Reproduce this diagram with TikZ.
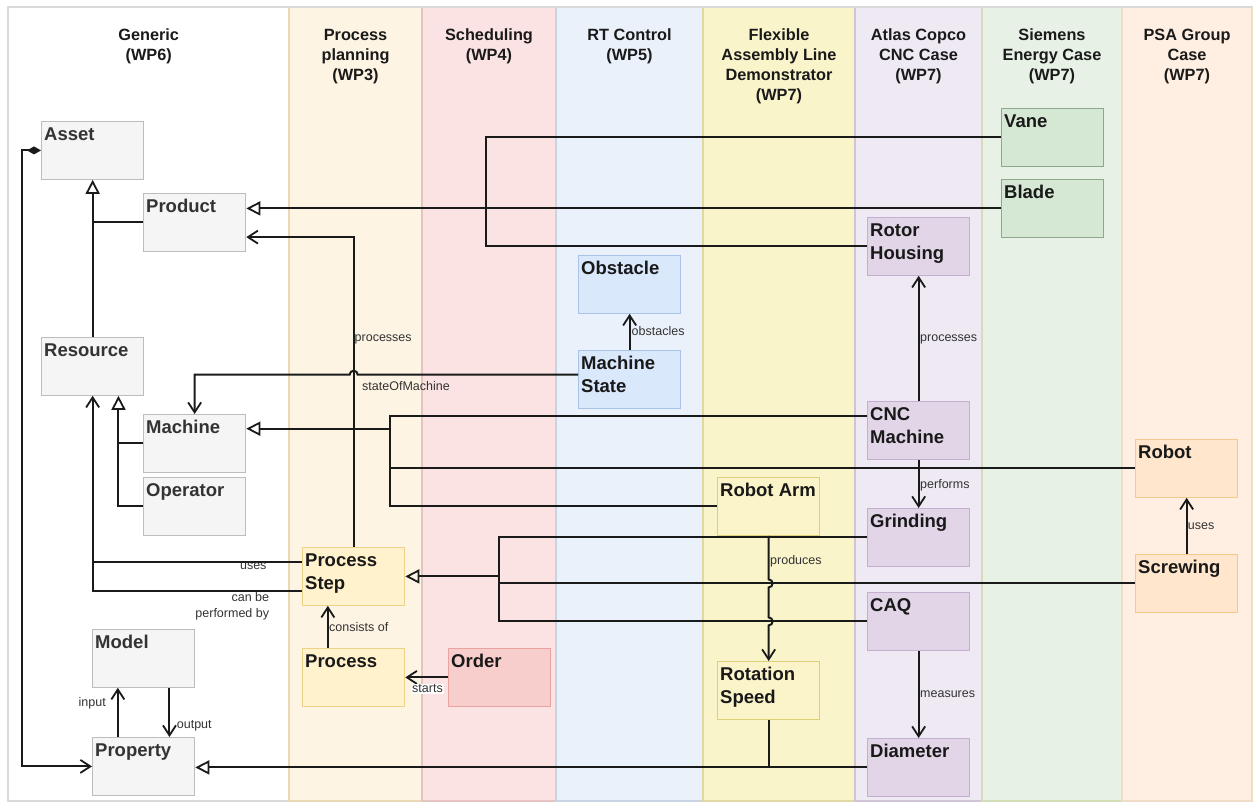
\documentclass[tikz,border=0pt]{standalone}
\usepackage{fontspec}
\setmainfont{Liberation Sans}
\usetikzlibrary{arrows.meta,calc}

% lane fills and borders
\definecolor{laneGenB}{HTML}{DADADA}
\definecolor{laneWPthree}{HTML}{FDF4E3}\definecolor{laneWPthreeB}{HTML}{EAD7B4}
\definecolor{laneWPfour}{HTML}{FBE3E3}\definecolor{laneWPfourB}{HTML}{E6C3C3}
\definecolor{laneWPfive}{HTML}{EAF1FB}\definecolor{laneWPfiveB}{HTML}{C8D3E4}
\definecolor{laneFlex}{HTML}{FAF4CB}\definecolor{laneFlexB}{HTML}{E2D8A2}
\definecolor{laneAtlas}{HTML}{EFE9F3}\definecolor{laneAtlasB}{HTML}{CFC4D8}
\definecolor{laneSiem}{HTML}{E8F1E6}\definecolor{laneSiemB}{HTML}{D3DDB8}
\definecolor{lanePSA}{HTML}{FFEFE2}\definecolor{lanePSAB}{HTML}{F1DCC6}
% box fills and borders
\definecolor{gFill}{HTML}{F5F5F5}\definecolor{gDraw}{HTML}{BDBDBD}\definecolor{gTxt}{HTML}{333333}
\definecolor{ppFill}{HTML}{FFF2CC}\definecolor{ppDraw}{HTML}{EDD28A}
\definecolor{orFill}{HTML}{F8CECC}\definecolor{orDraw}{HTML}{E8A3A0}
\definecolor{rtFill}{HTML}{DAE8FC}\definecolor{rtDraw}{HTML}{A8C3E8}
\definecolor{flFill}{HTML}{FBF4C9}\definecolor{flDraw}{HTML}{DFCE78}
\definecolor{acFill}{HTML}{E1D5E7}\definecolor{acDraw}{HTML}{C3AFD0}
\definecolor{seFill}{HTML}{D5E8D4}\definecolor{seDraw}{HTML}{8FA88C}
\definecolor{psFill}{HTML}{FFE6CC}\definecolor{psDraw}{HTML}{F3C98C}
\definecolor{lineC}{HTML}{1A1A1A}
\definecolor{lblTxt}{HTML}{333333}
\definecolor{headTxt}{HTML}{1A1A1A}

\begin{document}
\begin{tikzpicture}[x=1pt,y=-1pt,
  lane/.style={line width=1.2pt},
  % multi-line nodes sit on the baseline of their last line
  head/.style={font=\fontsize{16.3}{20}\selectfont\bfseries, align=center,
    text=headTxt, anchor=base, inner sep=0pt},
  box/.style={rectangle, anchor=north west, minimum width=102pt,
    minimum height=57.5pt, inner sep=0pt, line width=1.3pt},
  boxtxt/.style={anchor=base west, xshift=3pt, yshift=-19.7pt, inner sep=0pt,
    align=left, font=\fontsize{18.5}{23}\selectfont\bfseries, text=black!90},
  bx/.style={box, label={[boxtxt]north west:#1}},
  bxx/.style={box, label={[boxtxt, yshift=-23pt]north west:#1}},
  gx/.style={box, fill=gFill, draw=gDraw, label={[boxtxt, text=gTxt]north west:#1}},
  conn/.style={line width=2pt, draw=lineC},
  gen/.style={conn, -{Triangle[open, length=14pt, width=14pt, line width=1.8pt]}},
  ref/.style={conn, -{Straight Barb[length=10pt, width=13pt, line width=1.8pt]}},
  elbl/.style={font=\fontsize{12.5}{16}\selectfont, text=lblTxt, inner sep=0pt},
]
\useasboundingbox (0,0) rectangle (1255,803);

% ---------- swimlanes ----------
\draw[lane, fill=white, draw=laneGenB] (8,7) rectangle (289,801);
\draw[lane, fill=laneWPthree, draw=laneWPthreeB] (289,7) rectangle (422,801);
\draw[lane, fill=laneWPfour, draw=laneWPfourB] (422,7) rectangle (556,801);
\draw[lane, fill=laneWPfive, draw=laneWPfiveB] (556,7) rectangle (703,801);
\draw[lane, fill=laneFlex, draw=laneFlexB] (703,7) rectangle (855,801);
\draw[lane, fill=laneAtlas, draw=laneAtlasB] (855,7) rectangle (982,801);
\draw[lane, fill=laneSiem, draw=laneSiemB] (982,7) rectangle (1122,801);
\draw[lane, fill=lanePSA, draw=lanePSAB] (1122,7) rectangle (1252,801);
\draw[lane, draw=laneGenB] (8,7) -- (1252,7);

\node[head] (hGen) at (148.7,60) {Generic\\(WP6)};
\node[head] (hPP) at (355.5,80) {Process\\planning\\(WP3)};
\node[head] (hSch) at (489,60) {Scheduling\\(WP4)};
\node[head] (hRT) at (629.5,60) {RT Control\\(WP5)};
\node[head] (hFlex) at (779,100) {Flexible\\Assembly Line\\Demonstrator\\(WP7)};
\node[head] (hAtl) at (918.5,80) {Atlas Copco\\CNC Case\\(WP7)};
\node[head] (hSie) at (1052,80) {Siemens\\Energy Case\\(WP7)};
\node[head] (hPSA) at (1187,80) {PSA Group\\Case\\(WP7)};

% ---------- classes ----------
\node[gx={Asset}] (asset) at (41,121) {};
\node[gx={Product}] (product) at (143,193) {};
\node[gx={Resource}] (resource) at (41,337) {};
\node[gx={Machine}] (machine) at (143,414) {};
\node[gx={Operator}] (operator) at (143,477) {};
\node[gx={Model}] (model) at (92,629) {};
\node[gx={Property}] (property) at (92,737) {};

\node[bxx={Process\\Step}, fill=ppFill, draw=ppDraw] (pstep) at (302,547) {};
\node[bx={Process}, fill=ppFill, draw=ppDraw] (process) at (302,648) {};
\node[bx={Order}, fill=orFill, draw=orDraw] (order) at (448,648) {};
\node[bx={Obstacle}, fill=rtFill, draw=rtDraw] (obstacle) at (578,255) {};
\node[bxx={Machine\\State}, fill=rtFill, draw=rtDraw] (mstate) at (578,350) {};
\node[bx={Robot Arm}, fill=flFill, draw=flDraw] (robotarm) at (717,477) {};
\node[bxx={Rotation\\Speed}, fill=flFill, draw=flDraw] (rotspeed) at (717,661) {};
\node[bxx={Rotor\\Housing}, fill=acFill, draw=acDraw] (rotor) at (867,217) {};
\node[bxx={CNC\\Machine}, fill=acFill, draw=acDraw] (cnc) at (867,401) {};
\node[bx={Grinding}, fill=acFill, draw=acDraw] (grinding) at (867,508) {};
\node[bx={CAQ}, fill=acFill, draw=acDraw] (caq) at (867,592) {};
\node[bx={Diameter}, fill=acFill, draw=acDraw] (diameter) at (867,738) {};
\node[bx={Vane}, fill=seFill, draw=seDraw] (vane) at (1001,108) {};
\node[bx={Blade}, fill=seFill, draw=seDraw] (blade) at (1001,179) {};
\node[bx={Robot}, fill=psFill, draw=psDraw] (robot) at (1135,439) {};
\node[bx={Screwing}, fill=psFill, draw=psDraw] (screwing) at (1135,554) {};

% ---------- routing points ----------
\coordinate (cj) at (21.7,0);      % composition spine
\coordinate (genjoin) at (486,0);  % Vane / Rotor Housing spine
\coordinate (mj) at (390,0);       % Machine spine
\coordinate (pj) at (498.7,0);     % Process Step spine
\coordinate (resgen) at ($(resource.south west)!0.75!(resource.south east)$);
\coordinate (psA) at ($(pstep.north west)!0.25!(pstep.south west)$);
\coordinate (psB) at ($(pstep.north west)!0.75!(pstep.south west)$);
\coordinate (prodin) at ($(product.north east)!0.75!(product.south east)$);
\coordinate (msout) at ($(mstate.north west)!0.42!(mstate.south west)$);
\coordinate (cncout) at ($(cnc.north west)!0.25!(cnc.south west)$);
\coordinate (machin) at ($(machine.north east)!0.25!(machine.south east)$);

% ---------- generic hierarchy ----------
\draw[conn] (product.west) -- (product.west -| asset.south);
\draw[gen] (resource.north) -- (asset.south);
\draw[gen] (machine.west) -| (resgen);
\draw[conn] (operator.west) -| (machine.west -| resgen);
\draw[conn, {Diamond[length=14pt, width=8pt]}-{Straight Barb[length=10pt, width=13pt, line width=1.8pt]}]
  (asset.west) -- (asset.west -| cj) -- (cj |- property.west) -- (property.west);
\draw[ref] ($(property.north west)!0.25!(property.north east)$) -- ($(model.south west)!0.25!(model.south east)$);
\draw[ref] ($(model.south west)!0.75!(model.south east)$) -- ($(property.north west)!0.75!(property.north east)$);
\node[elbl, anchor=base east] (lInput) at (106,706.7) {input};
\node[elbl, anchor=base west] (lOutput) at (176.7,728.3) {output};

% ---------- process planning ----------
\draw[ref] (psA) -| (resource.south);
\draw[conn] (psB) -| (psA -| resource.south);
\node[elbl, anchor=base east] (lUses) at (266.7,569.3) {uses};
\node[elbl, anchor=base east, align=right] (lPerf) at (269.3,617.3) {can be\\performed by};
\draw[ref] (pstep.north) |- (prodin);
\node[elbl, anchor=base west] (lProc) at (354.5,341.7) {processes};
\draw[ref] ($(process.north west)!0.25!(process.north east)$) -- ($(pstep.south west)!0.25!(pstep.south east)$);
\node[elbl, anchor=base west] (lCons) at (329,631) {consists of};
\draw[ref] (order.west) -- (process.east);
\node[elbl, anchor=base west, fill=white, inner sep=1pt] (lStarts) at (411,692.7) {starts};

% ---------- RT control ----------
\draw[ref] (msout) -- ($(pstep.north |- msout)+(4,0)$) arc[start angle=0, end angle=180, radius=4pt]
  -- (machine.north |- msout) -- (machine.north);
\node[elbl, anchor=base west] (lState) at (362,390) {stateOfMachine};
\draw[ref] (mstate.north) -- (obstacle.south);
\node[elbl, anchor=base west] (lObst) at (631.5,335.7) {obstacles};

% ---------- specialisations from the use cases ----------
\draw[gen] (blade.west) -- (blade.west -| product.east);
\draw[conn] (vane.west) -| (genjoin |- rotor.west) -- (rotor.west);
\draw[conn] (cncout) -| (mj |- robotarm.west) -- (robotarm.west);
\draw[gen] (mj |- machin) -- (machin);
\draw[conn] (robot.west) -- (robot.west -| mj);
\draw[gen] (pj |- pstep.east) -- (pstep.east);
\draw[conn] (grinding.west) -| (pj |- caq.west) -- (caq.west);
\draw[conn] (screwing.west) -- (screwing.west -| pj);
\draw[gen] (diameter.west) -- (diameter.west -| property.east);
\draw[conn] (rotspeed.south) -- (rotspeed.south |- diameter.west);

% ---------- use case relations ----------
\draw[ref] (robotarm.south)
  -- ($(robotarm.south |- screwing.west)+(0,-4)$) arc[start angle=90, end angle=-90, radius=4pt]
  -- ($(robotarm.south |- caq.west)+(0,-4)$) arc[start angle=90, end angle=-90, radius=4pt]
  -- (rotspeed.north);
\node[elbl, anchor=base west] (lProd) at (770,564) {produces};
\draw[ref] (cnc.north) -- (rotor.south);
\node[elbl, anchor=base west] (lProc2) at (920,341.7) {processes};
\draw[ref] (cnc.south) -- (grinding.north);
\node[elbl, anchor=base west] (lPerfs) at (920,488.3) {performs};
\draw[ref] (caq.south) -- (diameter.north);
\node[elbl, anchor=base west] (lMeas) at (920,697.7) {measures};
\draw[ref] (screwing.north) -- (robot.south);
\node[elbl, anchor=base west] (lUses2) at (1187.7,529.3) {uses};
\end{tikzpicture}
\end{document}
